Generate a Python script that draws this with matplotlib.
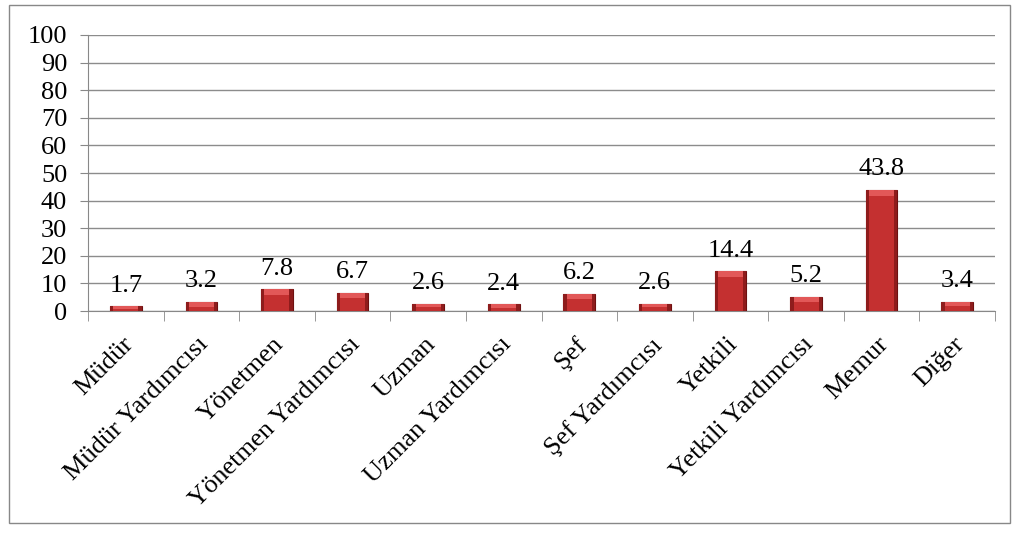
import numpy as np
import matplotlib.pyplot as plt
import matplotlib.transforms as mtransforms
from matplotlib.patches import Rectangle

plt.rcParams['font.family'] = ['Liberation Serif', 'DejaVu Serif']

categories = ['Müdür', 'Müdür Yardımcısı', 'Yönetmen', 'Yönetmen Yardımcısı', 'Uzman',
              'Uzman Yardımcısı', 'Şef', 'Şef Yardımcısı', 'Yetkili', 'Yetkili Yardımcısı',
              'Memur', 'Diğer']
values = [1.7, 3.2, 7.8, 6.7, 2.6, 2.4, 6.2, 2.6, 14.4, 5.2, 43.8, 3.4]
yticks = list(range(0, 101, 10))

fig = plt.figure(figsize=(10.19, 5.34), dpi=100)
ax = fig.add_axes([88/1019, 1 - 311/534, (995-88)/1019, (311-35)/534])

x = np.arange(len(categories))
w = 0.42
bars = ax.bar(x, values, width=w, color='#C43030', edgecolor='#6E1010', linewidth=0.8, zorder=3)
# bevel look: darker sides, lighter top strip
for b in bars:
    h = b.get_height()
    bx = b.get_x()
    ax.add_patch(Rectangle((bx, 0), 0.045, h, facecolor='#8E1C1C', edgecolor='none', zorder=4))
    ax.add_patch(Rectangle((bx + w - 0.045, 0), 0.045, h, facecolor='#8E1C1C', edgecolor='none', zorder=4))
    top = min(2.0, h * 0.5)
    ax.add_patch(Rectangle((bx + 0.045, h - top), w - 0.09, top,
                           facecolor='#E25858', edgecolor='none', zorder=4))

for xi, v in zip(x, values):
    ax.annotate(f'{v}', (xi, v), xytext=(0, 7), textcoords='offset points',
                ha='center', va='bottom', fontsize=19)

ax.set_xlim(-0.5, len(categories) - 0.5)
ax.set_ylim(0, 100)
ax.set_yticks(yticks)
ax.tick_params(axis='y', labelsize=19, length=6, color='#888888', pad=9)
ax.yaxis.grid(True, color='#8c8c8c', linewidth=1.0, zorder=0)
ax.set_axisbelow(True)

ax.set_xticks(x)
ax.set_xticklabels(categories, rotation=45, ha='right', rotation_mode='anchor', fontsize=19)
ax.tick_params(axis='x', length=0, pad=16)
shift = mtransforms.ScaledTranslation(-4/100, 0, fig.dpi_scale_trans)
for lab in ax.get_xticklabels():
    lab.set_transform(lab.get_transform() + shift)
ax.set_xticks(np.arange(-0.5, len(categories)), minor=True)
ax.tick_params(axis='x', which='minor', length=7, color='#888888')

for s in ['top', 'right']:
    ax.spines[s].set_visible(False)
for s in ['left', 'bottom']:
    ax.spines[s].set_color('#888888')

fig.patches.append(Rectangle((9/1019, 1 - 523/534), 1001/1019, 518/534,
                             transform=fig.transFigure, fill=False,
                             edgecolor='#888888', linewidth=1))

fig.savefig('out.png', dpi=100)
